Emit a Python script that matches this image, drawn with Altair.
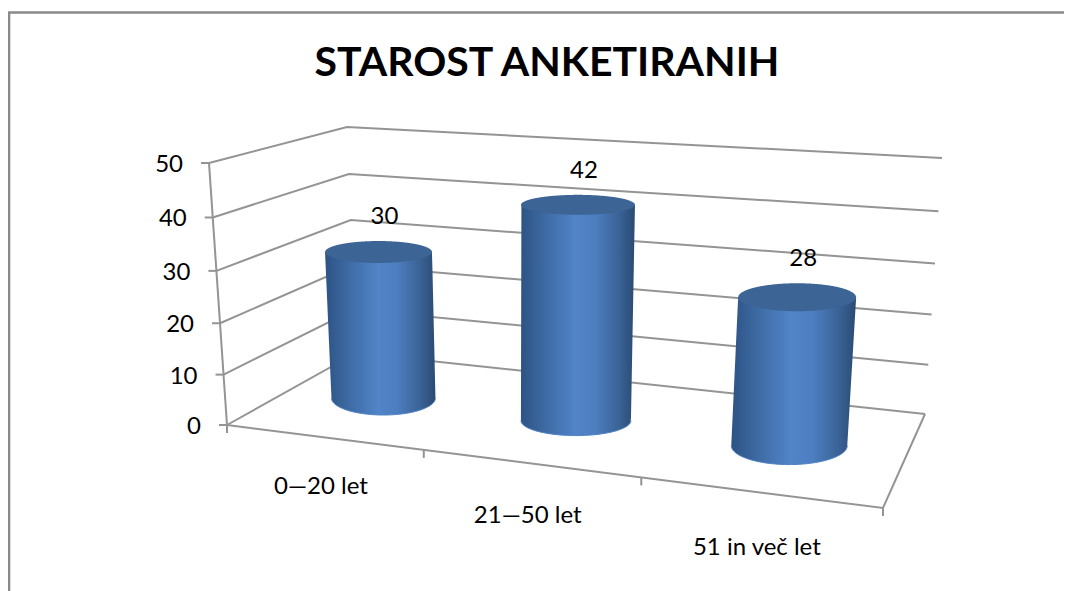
import math
import altair as alt
import pandas as pd

# ---- chart values ----
TITLE = "STAROST ANKETIRANIH"
CATEGORIES = ["0\u201420 let", "21\u201450 let", "51 in ve\u010d let"]
VALUES = [30, 42, 28]
AXIS_TICKS = [0, 10, 20, 30, 40, 50]
AXIS_MAX = 50

# ---- 3D box: projected corners (front/back, left/right; floor and top) ----
FL0, FL1 = (227, 425), (209, 163)
FR0, FR1 = (883, 508), (908, 208)
BL0, BL1 = (356, 353), (347, 127)
BR0, BR1 = (925, 414), (942, 158)
DEPTH_CENTER = 0.52
GRID_COLOR = "#949494"
TEXT_FONT = "Lato"

# cylinder radii as seen on screen: (rx_top, ry_top, rx_bottom, ry_bottom)
RADII = [(53.5, 11, 52, 17), (57, 10, 55, 15), (59, 14, 58, 19)]


def warp(t, k):
    return t / (1 + k * (1 - t))


def lerp(a, b, t):
    return (a[0] + (b[0] - a[0]) * t, a[1] + (b[1] - a[1]) * t)


def project(u, v, value):
    """Category position u, depth v (0 front, 1 back), value -> page position."""
    t, w = warp(u, 0.167), warp(value / AXIS_MAX, 0.05)
    floor = lerp(lerp(FL0, FR0, t), lerp(BL0, BR0, t), v)
    top = lerp(lerp(FL1, FR1, t), lerp(BL1, BR1, t), v)
    return lerp(floor, top, w)


def span_rows(outline, key, step=0.5):
    """Turn a convex outline into x / lower y / upper y rows for an area mark."""
    xs = [p[0] for p in outline]
    lo, hi = min(xs), max(xs)
    rows = []
    n = int((hi - lo) / step) + 1
    for i in range(n + 1):
        x = lo + (hi - lo) * i / n
        ys = []
        for (x0, y0), (x1, y1) in zip(outline, outline[1:] + outline[:1]):
            if min(x0, x1) <= x <= max(x0, x1):
                ys += [y0, y1] if x0 == x1 else [y0 + (y1 - y0) * (x - x0) / (x1 - x0)]
        rows.append({"x": x, "y": min(ys), "y2": max(ys), "cat": key})
    return rows


def arc(cx, cy, rx, ry, a0, a1, n=80):
    return [
        (cx + rx * math.cos(a0 + (a1 - a0) * i / n), cy + ry * math.sin(a0 + (a1 - a0) * i / n))
        for i in range(n + 1)
    ]


# ---- build tables from the values ----
grid, axis_labels = [], []
for tick in AXIS_TICKS:
    pts = [project(0, 0, tick), project(0, 1, tick), project(1, 1, tick)]
    for i, (x, y) in enumerate(pts):
        grid.append({"x": x, "y": y, "line": f"grid{tick}", "i": i})
    fx, fy = pts[0]
    grid.append({"x": fx - 8, "y": fy, "line": f"tick{tick}", "i": 0})
    grid.append({"x": fx, "y": fy, "line": f"tick{tick}", "i": 1})
    axis_labels.append({"x": fx - 26, "y": fy + 2, "text": str(tick)})

outline = [
    ("axis", [project(0, 0, 0), project(0, 0, AXIS_MAX)]),
    ("floorfront", [project(0, 0, 0), project(1, 0, 0), project(1, 1, 0)]),
]
for name, pts in outline:
    for i, (x, y) in enumerate(pts):
        grid.append({"x": x, "y": y, "line": name, "i": i})
# tick marks under the category axis, between categories and at both ends
for k in range(len(CATEGORIES) + 1):
    x, y = project(k / len(CATEGORIES), 0, 0)
    grid.append({"x": x, "y": y, "line": f"cattick{k}", "i": 0})
    grid.append({"x": x, "y": y + 8, "line": f"cattick{k}", "i": 1})

body, cap, rim, value_labels, cat_labels = [], [], [], [], []
n_cat = len(CATEGORIES)
for idx, (cat, val, radii) in enumerate(zip(CATEGORIES, VALUES, RADII)):
    u = (idx + 0.5) / n_cat
    bx, by = project(u, DEPTH_CENTER, 0)
    tx, ty = project(u, DEPTH_CENTER, val)
    rxt, ryt, rxb, ryb = radii
    shape = [(tx - rxt, ty)] + arc(bx, by, rxb, ryb, math.pi, 0) + [(tx + rxt, ty)]
    body += span_rows(shape, cat)
    cap += span_rows(arc(tx, ty, rxt, ryt, 0, 2 * math.pi), cat)
    for j, (x, y) in enumerate(arc(bx, by, rxb, ryb, math.pi, 0)):
        rim.append({"x": x, "y": y, "cat": cat, "i": j})
    value_labels.append({"x": tx + 6, "y": ty - ryt - 24, "text": str(val)})
    fx, fy = project(u, 0, 0)
    cat_labels.append({"x": fx - 2, "y": fy + 49 + 8 * warp(u, 0.167), "text": cat})

frame = pd.DataFrame({"x": [9, 9, 1072], "y": [591, 12.5, 12.5], "i": [0, 1, 2]})
title_df = pd.DataFrame([{"x": 547, "y": 64, "text": TITLE}])

X = alt.X("x:Q", axis=None, scale=alt.Scale(domain=[8, 1064], nice=False, zero=False))
Y = alt.Y("y:Q", axis=None, scale=alt.Scale(domain=[591, 8], nice=False, zero=False))

frame_layer = alt.Chart(frame).mark_line(color="#8a8a8a", strokeWidth=2.6, clip=True).encode(
    X, Y, order="i:Q"
)
grid_layer = alt.Chart(pd.DataFrame(grid)).mark_line(color=GRID_COLOR, strokeWidth=2).encode(
    X, Y, detail="line:N", order="i:Q"
)
gradient = alt.Gradient(
    gradient="linear",
    x1=0, x2=1, y1=0, y2=0,
    stops=[
        alt.GradientStop(color="#2d5385", offset=0),
        alt.GradientStop(color="#3e6ba4", offset=0.22),
        alt.GradientStop(color="#5184c8", offset=0.48),
        alt.GradientStop(color="#4d7ec0", offset=0.65),
        alt.GradientStop(color="#3a6396", offset=0.86),
        alt.GradientStop(color="#2a4a73", offset=1),
    ],
)
body_layer = alt.Chart(pd.DataFrame(body)).mark_area(color=gradient, orient="vertical").encode(
    X, Y, y2="y2:Q", detail="cat:N"
)
rim_layer = alt.Chart(pd.DataFrame(rim)).mark_line(color="#4f82c4", strokeWidth=1).encode(
    X, Y, detail="cat:N", order="i:Q"
)
cap_layer = alt.Chart(pd.DataFrame(cap)).mark_area(color="#3c6494", orient="vertical").encode(
    X, Y, y2="y2:Q", detail="cat:N"
)


def text_layer(rows, size, **kw):
    return alt.Chart(pd.DataFrame(rows)).mark_text(
        font=TEXT_FONT, fontSize=size, color="#000000", baseline="middle", **kw
    ).encode(X, Y, text="text:N")


chart = alt.layer(
    frame_layer,
    grid_layer,
    body_layer,
    rim_layer,
    cap_layer,
    text_layer(axis_labels, 24, align="right"),
    text_layer(value_labels, 24, align="center"),
    text_layer(cat_labels, 24, align="center"),
    text_layer(title_df, 41, align="center", fontWeight="bold"),
).properties(
    width=1056,
    height=583,
    padding=0,
    autosize=alt.AutoSizeParams(type="none"),
    background="#ffffff",
).configure_view(stroke=None)

chart.save("out.html", embed_options={"renderer": "svg", "actions": False})
